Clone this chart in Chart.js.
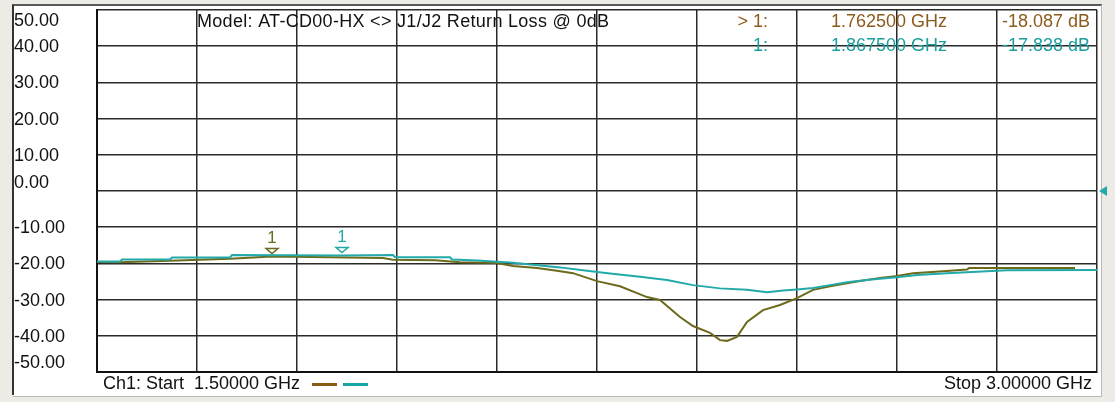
<!DOCTYPE html>
<html>
<head>
<meta charset="utf-8">
<script src="https://cdn.jsdelivr.net/npm/chart.js@4/dist/chart.umd.min.js"></script>
<style>
  html, body { margin: 0; padding: 0; background: #ecebe6; }
  canvas { display: block; }
</style>
</head>
<body>
<canvas id="c" width="1115" height="402"></canvas>
<script>
// trace 1 (olive) and trace 1 memory (cyan), GHz / dB
const freqOlive = [1.5, 1.5345, 1.6095, 1.6995, 1.7625, 1.8495, 1.929, 1.944, 2.007, 2.0445,
  2.1, 2.124, 2.16, 2.19, 2.214, 2.25, 2.2845, 2.325, 2.3445, 2.3745, 2.394, 2.4195, 2.4345,
  2.445, 2.46, 2.475, 2.499, 2.5245, 2.55, 2.574, 2.5995, 2.64, 2.6745, 2.7, 2.724, 2.769,
  2.805, 2.808, 2.967];
const lossOlive = [-19.6, -19.7, -19.3, -18.7, -18.087, -18.3, -18.5, -19.0, -19.1, -19.7,
  -19.9, -20.7, -21.3, -22.0, -22.7, -24.9, -26.3, -29.3, -30.1, -34.8, -37.3, -39.2, -41.2,
  -41.4, -40.3, -36.2, -32.9, -31.5, -29.6, -27.3, -26.3, -25.0, -24.0, -23.5, -22.7, -22.2,
  -21.7, -21.3, -21.3];

const freqCyan = [1.5, 1.5345, 1.5375, 1.6095, 1.6125, 1.6995, 1.7025, 1.8675, 1.944, 1.947,
  2.0295, 2.0325, 2.07, 2.124, 2.154, 2.1945, 2.235, 2.2695, 2.3145, 2.355, 2.394, 2.4345,
  2.475, 2.505, 2.529, 2.55, 2.574, 2.5995, 2.625, 2.6445, 2.67, 2.7, 2.73, 2.775, 2.82,
  2.865, 3.0];
const lossCyan = [-19.5, -19.5, -18.9, -18.9, -18.4, -18.4, -17.7, -17.838, -17.7, -18.3,
  -18.3, -18.9, -19.2, -19.8, -20.4, -21.1, -22.0, -22.8, -23.7, -24.6, -26.0, -26.9,
  -27.3, -28.0, -27.5, -27.2, -26.8, -26.0, -25.2, -24.8, -24.3, -23.8, -23.2, -22.7, -22.3,
  -21.9, -21.8];

const markerFreq = [1.7625, 1.8675];
const markerLoss = [-18.087, -17.838];
const markerNames = ['> 1:', '1:'];

const xGrid = [1.5, 1.65, 1.8, 1.95, 2.1, 2.25, 2.4, 2.55, 2.7, 2.85, 3.0];
const yTicks = [50, 40, 30, 20, 10, 0, -10, -20, -30, -40, -50];
const yLabels = ['50.00', '40.00', '30.00', '20.00', '10.00', '0.00', '-10.00', '-20.00', '-30.00', '-40.00', '-50.00'];

const titleText = 'Model: AT-CD00-HX <> J1/J2 Return Loss @ 0dB';
const startText = 'Ch1: Start  1.50000 GHz';
const stopText = 'Stop 3.00000 GHz';

const OLIVE = '#6e6a1c';
const CYAN = '#22a9a9';
const BROWN_TXT = '#8c5a1c';
const CYAN_TXT = '#1a9e9e';
const FONT = '"Liberation Sans", Arial, sans-serif';

const toPts = (xs, ys) => xs.map((x, i) => ({ x, y: ys[i] }));

const framePlugin = {
  id: 'frame',
  beforeDraw(chart) {
    const ctx = chart.ctx;
    ctx.save();
    ctx.fillStyle = '#ecebe6';
    ctx.fillRect(0, 0, chart.width, chart.height);
    ctx.fillStyle = '#ffffff';
    ctx.fillRect(13, 6, 1088, 390);
    ctx.fillStyle = '#5a5a5a';
    ctx.fillRect(12, 4, 1090, 2);
    ctx.fillStyle = '#333';
    ctx.fillRect(12, 5, 2, 390);
    ctx.fillStyle = '#b8b8b8';
    ctx.fillRect(1101, 5, 1, 391);
    ctx.fillRect(13, 396, 1089, 1);
    ctx.restore();
  },
  afterDraw(chart) {
    const ctx = chart.ctx;
    const xs = chart.scales.x, ys = chart.scales.y;
    const area = chart.chartArea;
    ctx.save();
    ctx.font = '18px ' + FONT;
    ctx.textBaseline = 'middle';

    // y labels
    ctx.fillStyle = '#111';
    ctx.textAlign = 'left';
    yTicks.forEach((v, i) => {
      let y = ys.getPixelForValue(v) + 1;
      if (i === 0) y += 10;
      if (v === 0) y -= 9;
      if (i === yTicks.length - 1) y -= 10;
      ctx.fillText(yLabels[i], 14, y);
    });

    // title
    ctx.letterSpacing = '0.3px';
    ctx.fillText(titleText, area.left + 100, 22);
    ctx.letterSpacing = '0px';

    // marker readout
    const rowY = [22, 46];
    const rowCol = [BROWN_TXT, CYAN_TXT];
    markerFreq.forEach((f, i) => {
      ctx.fillStyle = rowCol[i];
      ctx.textAlign = 'right';
      ctx.fillText(markerNames[i], 768, rowY[i]);
      ctx.textAlign = 'left';
      ctx.fillText(f.toFixed(6) + ' GHz', 831, rowY[i]);
      ctx.textAlign = 'right';
      ctx.fillText(markerLoss[i].toFixed(3) + ' dB', 1090, rowY[i]);
    });

    // trace markers
    const mkCol = [OLIVE, CYAN];
    ctx.font = '17px ' + FONT;
    ctx.textAlign = 'center';
    markerFreq.forEach((f, i) => {
      const x = xs.getPixelForValue(f);
      const y = ys.getPixelForValue(markerLoss[i]);
      ctx.strokeStyle = mkCol[i];
      ctx.fillStyle = mkCol[i];
      ctx.lineWidth = 1.5;
      ctx.beginPath();
      ctx.moveTo(x - 6, y - 8);
      ctx.lineTo(x + 6, y - 8);
      ctx.lineTo(x, y - 3);
      ctx.closePath();
      ctx.stroke();
      ctx.fillText('1', x, y - 18);
    });

    // reference level arrow
    const y0 = ys.getPixelForValue(0);
    ctx.fillStyle = CYAN;
    ctx.beginPath();
    ctx.moveTo(1099, y0);
    ctx.lineTo(1107, y0 - 5);
    ctx.lineTo(1107, y0 + 5);
    ctx.closePath();
    ctx.fill();

    // footer
    ctx.font = '18px ' + FONT;
    ctx.fillStyle = '#111';
    ctx.textAlign = 'left';
    ctx.fillText(startText, 103, 384);
    ctx.textAlign = 'right';
    ctx.fillText(stopText, 1092, 384);
    ctx.fillStyle = '#8b5a14';
    ctx.fillRect(312, 383, 25, 3);
    ctx.fillStyle = '#1aa5a5';
    ctx.fillRect(343, 383, 25, 3);
    ctx.restore();
  }
};

new Chart(document.getElementById('c'), {
  type: 'line',
  data: {
    datasets: [
      { label: 'Mem', data: toPts(freqCyan, lossCyan), borderColor: CYAN, borderWidth: 2, pointRadius: 0, tension: 0 },
      { label: 'Trc', data: toPts(freqOlive, lossOlive), borderColor: OLIVE, borderWidth: 2, pointRadius: 0, tension: 0 }
    ]
  },
  options: {
    responsive: false,
    animation: false,
    layout: { padding: { left: 97, right: 18, top: 10, bottom: 30 } },
    plugins: { legend: { display: false }, tooltip: { enabled: false } },
    scales: {
      x: {
        type: 'linear', min: 1.5, max: 3.0,
        afterBuildTicks: s => { s.ticks = xGrid.map(v => ({ value: v })); },
        ticks: { display: false },
        grid: { color: '#2a2a2a', lineWidth: 1.5, drawTicks: false },
        border: { color: '#111', width: 2 }
      },
      y: {
        min: -50, max: 50,
        afterBuildTicks: s => { s.ticks = yTicks.map(v => ({ value: v })); },
        ticks: { display: false },
        grid: { color: '#2a2a2a', lineWidth: 1.5, drawTicks: false },
        border: { color: '#111', width: 2 }
      }
    }
  },
  plugins: [framePlugin]
});
</script>
</body>
</html>
